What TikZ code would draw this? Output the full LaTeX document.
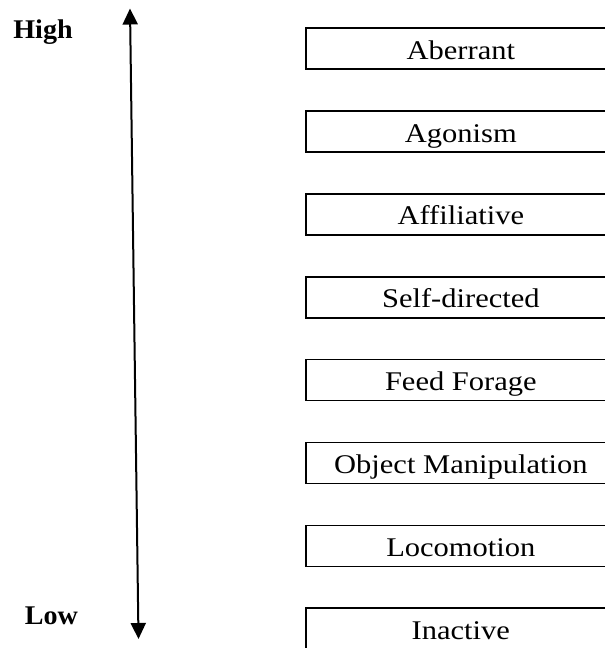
\documentclass[tikz,border=0pt]{standalone}
\usepackage{fontspec}
\usepackage{graphicx}
\setmainfont{Liberation Serif}
\usetikzlibrary{arrows.meta}
\tikzset{
  catbox/.style={draw=black, line width=1.7pt, rectangle, minimum width=310pt, minimum height=41pt,
    inner sep=0pt, anchor=north west, text height=27pt, text depth=6pt,
    font=\fontsize{27}{30}\selectfont},
  scalelabel/.style={font=\fontsize{27}{30}\selectfont\bfseries, anchor=base, inner sep=0pt},
  scalearrow/.style={line width=2pt, {Triangle[width=15pt,length=16pt]}-{Triangle[width=15pt,length=16pt]}}
}
\newcommand{\wide}[1]{\scalebox{1.13}[1]{#1}}
\begin{document}
\begin{tikzpicture}[x=1pt,y=-1pt]
\useasboundingbox (0,0) rectangle (605,648);
\clip (0,0) rectangle (605,648);
\node[scalelabel] (high) at (43,38) {\scalebox{1.04}[1]{High}};
\node[scalelabel] (low) at (51.5,624) {\scalebox{1.04}[1]{Low}};
\coordinate (atop) at (130,8.5);
\coordinate (abot) at (138.5,639);
\draw[scalearrow] (abot) -- (atop);
\node[catbox] (b1) at (305,27.3) {\wide{Aberrant}};
\node[catbox] (b2) at (305,110.2) {\wide{Agonism}};
\node[catbox] (b3) at (305,193.0) {\wide{Affiliative}};
\node[catbox] (b4) at (305,275.9) {\wide{Self-directed}};
\node[catbox] (b5) at (305,358.7) {\wide{Feed Forage}};
\node[catbox] (b6) at (305,441.6) {\wide{Object Manipulation}};
\node[catbox] (b7) at (305,524.5) {\wide{Locomotion}};
\node[catbox] (b8) at (305,607.3) {\wide{Inactive}};
\end{tikzpicture}
\end{document}
